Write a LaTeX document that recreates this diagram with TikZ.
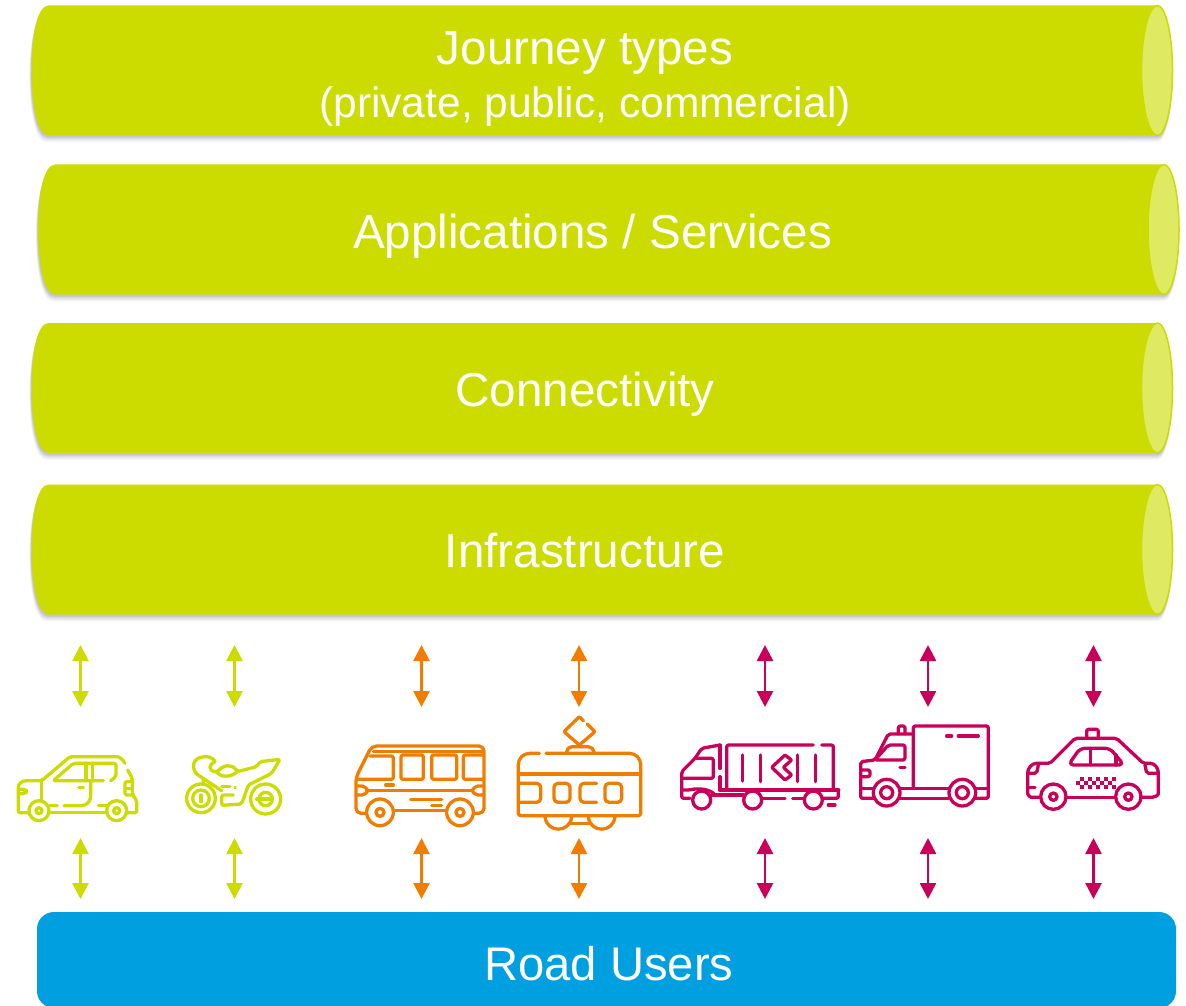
\documentclass[tikz,border=0pt]{standalone}
\usepackage{fontspec}
\setmainfont{Liberation Sans}
\usetikzlibrary{arrows.meta}
\definecolor{lime}{HTML}{CDDC00}
\definecolor{limelt}{HTML}{DFEA62}
\definecolor{orng}{HTML}{F07D00}
\definecolor{mgnt}{HTML}{C8005A}
\definecolor{roadblue}{HTML}{009FDF}
\tikzset{
  layerlabel/.style={anchor=base,text=white,font=\fontsize{47.6}{48}\selectfont,inner sep=0pt},
  sublabel/.style={anchor=base,text=white,font=\fontsize{42.5}{42.5}\selectfont,inner sep=0pt},
  link/.style={line width=2.6pt,{Triangle[length=16pt,width=16pt]}-{Triangle[length=16pt,width=16pt]}},
  icon/.style={line width=3.3pt,line cap=round,line join=round,rounded corners=2pt},
  wheelring/.style={line width=3.3pt,fill=white}
}
% cylinder: left x, top y
\newcommand{\cyl}[2]{%
  \begin{scope}[shift={(#1,#2)}]
    \foreach \o/\a in {7/.025,6/.03,5/.035,4/.04,3/.05,2/.06}{
      \fill[black!80!blue,opacity=\a] (17-\o*0.3,\o) .. controls (6-\o*0.3,\o) and (0-\o*0.3,29+\o) .. (0-\o*0.3,65+\o) .. controls (0-\o*0.3,101+\o) and (6-\o*0.3,130+\o) .. (17-\o*0.3,130+\o) -- (1126,130+\o) .. controls (1134,130+\o) and (1141,101+\o) .. (1141,65+\o) .. controls (1141,29+\o) and (1134,\o) .. (1126,\o) -- cycle;
    }
    \fill[lime] (17,0) .. controls (6,0) and (0,29) .. (0,65) .. controls (0,101) and (6,130) .. (17,130) -- (1126,130) .. controls (1134,130) and (1141,101) .. (1141,65) .. controls (1141,29) and (1134,0) .. (1126,0) -- cycle;
    \draw[lime,line width=1.5pt,fill=limelt] (1126,0) .. controls (1117.5,0) and (1110,29) .. (1110,65) .. controls (1110,101) and (1117.5,130) .. (1126,130) .. controls (1134,130) and (1141,101) .. (1141,65) .. controls (1141,29) and (1134,0) .. (1126,0) -- cycle;
  \end{scope}}
\newcommand{\linkpair}[3]{%
  \coordinate (t#1a) at (#2,645); \coordinate (t#1b) at (#2,707);
  \coordinate (b#1a) at (#2,838); \coordinate (b#1b) at (#2,899);
  \draw[link,#3] (t#1a) -- (t#1b);
  \draw[link,#3] (b#1a) -- (b#1b);}
\begin{document}
\begin{tikzpicture}[x=1pt,y=-1pt]
\useasboundingbox (0,0) rectangle (1186,1006);
\clip (0,0) rectangle (1186,1006);
\fill[white] (0,0) rectangle (1186,1006);
\cyl{31.5}{5.5}
\cyl{38}{164.5}
\cyl{31.5}{323}
\cyl{31.5}{484.5}
\node[layerlabel] (journey) at (585,65) {Journey types};
\node[sublabel] (journeysub) at (585,117.5) {(private, public, commercial)};
\node[layerlabel] (apps) at (592.5,248) {Applications / Services};
\node[layerlabel] (conn) at (585,406) {Connectivity};
\node[layerlabel] (infra) at (585,567) {Infrastructure};
\fill[roadblue,rounded corners=17pt] (37,912) rectangle (1176,1008);
\node[layerlabel,font=\fontsize{47.2}{48}\selectfont] (road) at (609,980) {Road Users};
\linkpair{1}{80.5}{lime}
\linkpair{2}{234.5}{lime}
\linkpair{3}{421.5}{orng}
\linkpair{4}{579}{orng}
\linkpair{5}{765}{mgnt}
\linkpair{6}{928}{mgnt}
\linkpair{7}{1093.5}{mgnt}
% car
\begin{scope}[shift={(0,630)},scale=1/3,icon,draw=lime]
\draw (85,548) -- (55,548) -- (55,478) .. controls (55,462) and (65,452) .. (85,452) -- (125,452) -- (210,380) -- (345,380) .. controls (358,380) and (368,388) .. (375,400);
\draw (383,420) -- (397,445) -- (397,495) -- (410,510) -- (410,548) -- (385,548);
\draw (125,452) -- (125,515);
\draw (150,548) -- (318,548);
\draw (150,527) -- (172,527);
\draw (192,527) -- (250,527) .. controls (265,520) and (272,510) .. (272,490) -- (272,455);
\draw (295,527) -- (320,527);
\draw (310,452) -- (160,452) -- (220,400) -- (348,400) -- (348,440) -- (332,452);
\draw (258,400) -- (258,452);
\draw (278,400) -- (278,452);
\draw (236,472) -- (250,472);
\draw (55,478) -- (75,478) -- (82,484) -- (75,491) -- (55,491);
\draw (397,455) -- (375,455) -- (375,495) -- (397,495);
\draw (375,475) -- (397,475);
\draw[wheelring] (117,542) circle[radius=30];
\draw[wheelring] (117,542) circle[radius=9];
\draw[wheelring] (350,542) circle[radius=30];
\draw[wheelring] (350,542) circle[radius=9];
\end{scope}
% motorbike
\begin{scope}[shift={(0,630)},scale=1/3,icon,draw=lime]
\draw (590,432) .. controls (575,415) and (575,385) .. (615,380) .. controls (630,380) and (645,390) .. (645,395);
\draw (590,432) -- (612,447) -- (665,482);
\draw (645,395) .. controls (625,405) and (625,420) .. (650,427) .. controls (670,405) and (695,400) .. (712,425) -- (770,410) -- (780,395) -- (840,388) -- (815,430) -- (745,465) -- (725,522) -- (665,526) -- (665,495) -- (700,495);
\draw (650,427) .. controls (660,440) and (690,445) .. (712,425);
\draw (665,470) -- (690,470);
\draw (705,472) -- (706,473);
\draw (612,447) -- (606,470);
\draw[wheelring] (603,505) circle[radius=43];
\draw[wheelring] (603,505) circle[radius=25];
\draw (603,495) -- (603,515);
\draw[wheelring] (797,507) circle[radius=45];
\draw[wheelring] (797,507) circle[radius=20];
\draw (770,507) -- (810,507);
\end{scope}
% bus
\begin{scope}[shift={(340,700)},scale=1/3,icon,draw=orng]
\draw[rounded corners=5pt] (80,340) -- (48,340) -- (48,232) -- (95,138) -- (432,138) -- (432,340) -- (402,340);
\draw (100,155) -- (428,155);
\draw (55,238) -- (160,238) -- (160,168) -- (90,168);
\draw (183,165) rectangle (250,238);
\draw (275,165) rectangle (350,238);
\draw (430,165) -- (370,165) -- (370,238) -- (430,238);
\draw (80,272) -- (395,272);
\draw (50,258) -- (72,258) -- (85,272) -- (72,285) -- (50,285);
\draw (432,258) -- (408,258) -- (395,272) -- (408,285) -- (432,285);
\draw (137,255) -- (160,255);
\draw (212,298) -- (305,298);
\draw (275,316) -- (305,316);
\draw (160,332) -- (320,332);
\draw[wheelring] (120,337) circle[radius=40];
\draw[wheelring] (120,337) circle[radius=12];
\draw[wheelring] (360,337) circle[radius=40];
\draw[wheelring] (360,337) circle[radius=12];
\end{scope}
% tram
\begin{scope}[shift={(340,700)},scale=1/3,icon,draw=orng]
\draw (598,160) -- (575,160) .. controls (550,160) and (535,175) .. (535,200) -- (535,335) .. controls (535,343) and (540,347) .. (548,347) -- (890,347) .. controls (898,347) and (902,343) .. (902,335) -- (902,200) .. controls (902,175) and (887,160) .. (862,160) -- (618,160);
\draw (535,222) -- (902,222);
\draw[rounded corners=4pt] (535,250) -- (602,250) -- (602,307) -- (535,307);
\draw[rounded corners=4pt] (642,250) rectangle (690,307);
\draw[rounded corners=4pt] (770,250) -- (720,250) -- (720,307) -- (770,307);
\draw[rounded corners=4pt] (795,250) rectangle (845,307);
\draw (615,350) .. controls (620,400) and (690,400) .. (695,350);
\draw (745,350) .. controls (750,400) and (820,400) .. (825,350);
\draw (692,370) -- (748,370);
\draw (680,160) -- (680,150) -- (690,140) -- (750,140) -- (762,150) -- (762,160);
\draw[rounded corners=1pt] (730,62) -- (718,50) -- (672,95) -- (718,135) -- (765,95) -- (742,72);
\end{scope}
% truck
\begin{scope}[shift={(670,710)},scale=1/3,icon,draw=mgnt]
\draw (170,240) -- (170,105) -- (430,105);
\draw (455,105) -- (490,105) -- (490,240);
\draw[line width=4.2pt] (150,240) -- (505,240);
\draw (505,240) -- (505,265) -- (460,265);
\draw (218,135) -- (218,213);
\draw (272,135) -- (272,215);
\draw (382,135) -- (382,215);
\draw (437,135) -- (437,215);
\draw[rounded corners=1pt] (345,135) -- (305,172) -- (345,210) -- (365,195) -- (340,172) -- (365,150) -- cycle;
\draw (150,105) -- (95,115) -- (75,145) -- (35,185) -- (35,265) -- (60,265);
\draw (150,105) -- (150,175);
\draw (150,200) -- (150,240);
\draw (80,145) -- (130,145) -- (130,205) -- (40,205);
\draw (35,240) -- (60,240) .. controls (80,235) and (120,235) .. (135,255);
\draw (125,255) -- (220,255);
\draw (275,265) -- (345,265);
\draw (368,265) -- (400,265);
\draw (475,285) -- (495,285);
\draw[wheelring] (95,270) circle[radius=27];
\draw[wheelring] (248,270) circle[radius=27];
\draw[wheelring] (430,270) circle[radius=27];
\end{scope}
% delivery van
\begin{scope}[shift={(670,710)},scale=1/3,icon,draw=mgnt]
\draw (730,235) -- (730,48) -- (955,48) -- (955,265) -- (915,265);
\draw (830,78) -- (845,78);
\draw (865,78) -- (925,78);
\draw (730,72) -- (655,72) -- (615,150) -- (572,155) -- (572,265) -- (610,265);
\draw (615,150) -- (655,105) -- (705,105) -- (705,150) -- cycle;
\draw (685,72) -- (685,48) -- (705,48) -- (705,72);
\draw (690,172) -- (705,172);
\draw (572,180) -- (600,180) -- (600,200) -- (572,200);
\draw (572,235) -- (610,235);
\draw (690,235) -- (835,235);
\draw (915,235) -- (955,235);
\draw (690,265) -- (835,265);
\draw[wheelring] (650,248) circle[radius=40];
\draw[wheelring] (650,248) circle[radius=18];
\draw[wheelring] (877,248) circle[radius=40];
\draw[wheelring] (877,248) circle[radius=18];
\end{scope}
% taxi
\begin{scope}[shift={(1000,710)},scale=1/3,icon,draw=mgnt]
\draw (125,262) -- (100,262) .. controls (90,262) and (83,255) .. (83,245) -- (83,195) .. controls (83,175) and (95,160) .. (115,160) -- (150,160) -- (225,85) -- (350,85) -- (430,160) -- (445,160) .. controls (465,160) and (475,175) .. (475,195) -- (475,245) .. controls (475,255) and (465,262) .. (450,262) -- (425,262);
\draw (200,262) -- (350,262);
\draw (260,85) -- (260,58) -- (295,58) -- (295,85);
\draw[rounded corners=5pt] (205,165) -- (240,115) -- (330,115) -- (372,165) -- cycle;
\draw (272,115) -- (272,165);
\draw (348,135) -- (348,165);
\draw (115,165) -- (110,190) -- (87,190);
\draw (435,165) -- (440,190) -- (472,190);
\draw (85,232) -- (105,232);
\draw[wheelring] (160,260) circle[radius=38];
\draw[wheelring] (160,260) circle[radius=11];
\draw[wheelring] (385,260) circle[radius=38];
\draw[wheelring] (385,260) circle[radius=11];
\foreach \c in {0,2,4,6,8}{
  \fill[mgnt,sharp corners] (227+\c*12,212) rectangle +(12,12);
  \fill[mgnt,sharp corners] (239+\c*12,200) rectangle +(12,12);
  \fill[mgnt,sharp corners] (239+\c*12,224) rectangle +(12,12);
}
\end{scope}
\end{tikzpicture}
\end{document}
